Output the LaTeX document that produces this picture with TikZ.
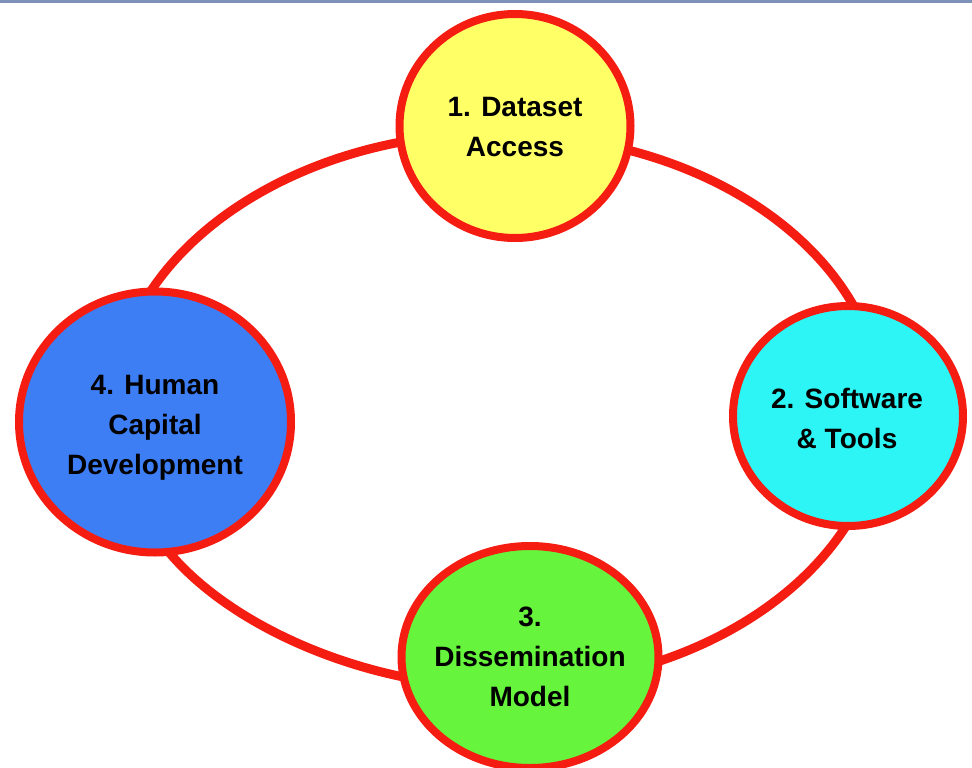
\documentclass[tikz,border=0pt]{standalone}
\usepackage{fontspec}
\setmainfont{Liberation Sans}
\usetikzlibrary{shapes.geometric,backgrounds}
\definecolor{ringred}{RGB}{245,28,18}
\definecolor{fillyellow}{RGB}{255,255,102}
\definecolor{fillcyan}{RGB}{45,245,245}
\definecolor{fillblue}{RGB}{62,126,245}
\definecolor{fillgreen}{RGB}{102,245,60}
\definecolor{topbar}{RGB}{125,145,185}
\begin{document}
\begin{tikzpicture}[x=1pt,y=1pt,
  bubble/.style={ellipse, draw=ringred, line width=8pt, inner sep=0pt, outer sep=0pt},
  caption/.style={font=\bfseries\fontsize{28}{40}\selectfont, align=center, text depth=0pt, inner sep=0pt, text=black},
  ring/.style={draw=ringred, line width=9pt}]
\useasboundingbox (0,0) rectangle (972,-768);
% circles
\node[bubble, fill=fillyellow, minimum width=231pt, minimum height=224pt] (c1) at (515,-126) {};
\node[bubble, fill=fillcyan,   minimum width=230pt, minimum height=220pt] (c2) at (848,-416) {};
\node[bubble, fill=fillgreen,  minimum width=257pt, minimum height=222pt] (c3) at (530,-657) {};
\node[bubble, fill=fillblue,   minimum width=272pt, minimum height=261pt] (c4) at (155,-422) {};
% texts
\node[caption] (t1) at (515,-127) {1. Dataset\\Access};
\node[caption] (t2) at (847,-418) {2. Software\\\& Tools};
\node[caption] (t3) at (530,-657) {3.\\Dissemination\\Model};
\node[caption] (t4) at (155,-425) {4. Human\\Capital\\Development};
% top bar
\fill[topbar] (0,0) rectangle (972,-3);
% ring behind the circles
\begin{pgfonlayer}{background}
\fill[white] (0,0) rectangle (972,-768);
\draw[ring] (c4.92) .. controls +(48.6,73.5) and +(-109.5,-20.6) .. (c1.188);
\draw[ring] (c1.348) .. controls +(102.7,-26.4) and +(-41.2,72.6) .. (c2.87);
\draw[ring] (c2.269) .. controls +(-38.3,-59.5) and +(82.8,27.5) .. (c3.358);
\draw[ring] (c3.189) .. controls +(-93.7,19.2) and +(50.2,-60.0) .. (c4.276);
\end{pgfonlayer}
\end{tikzpicture}
\end{document}
